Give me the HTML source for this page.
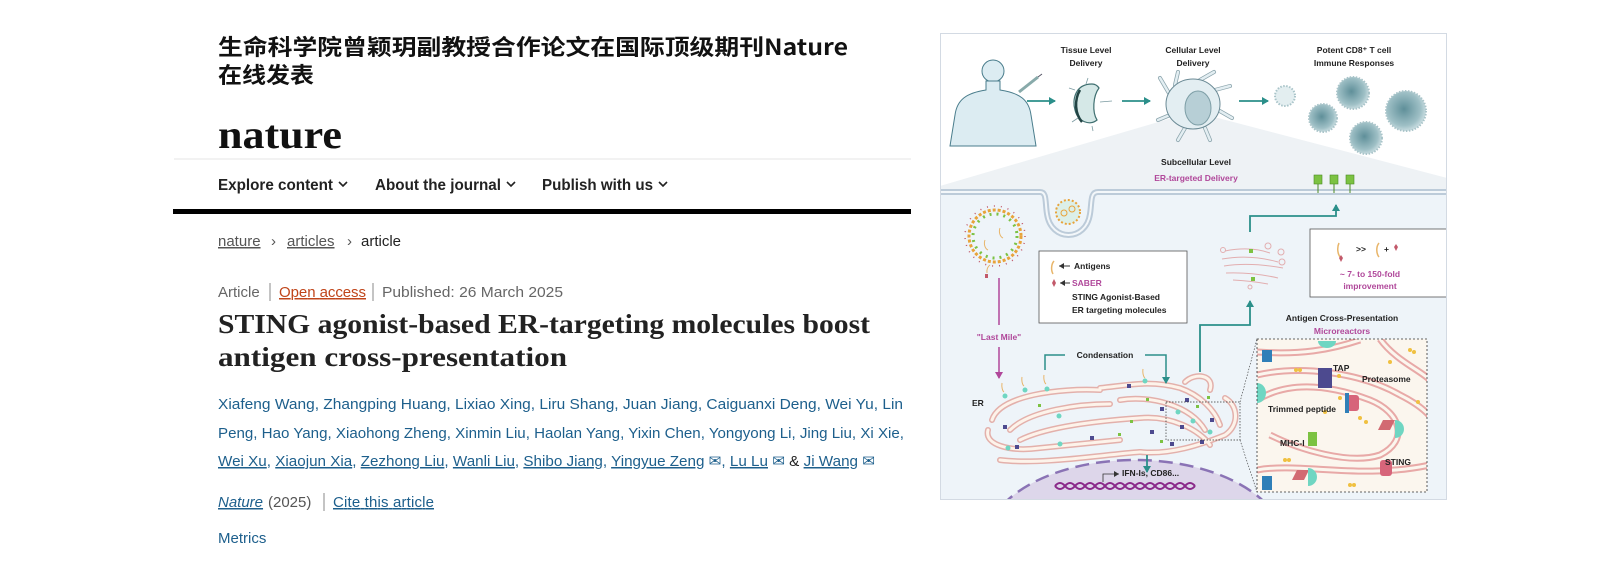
<!DOCTYPE html>
<html><head><meta charset="utf-8"><style>
html,body{margin:0;padding:0;background:#fff;width:1600px;height:580px;overflow:hidden}
svg{display:block;overflow:hidden}
.s{font-family:"Liberation Sans",sans-serif}
.b{font-weight:bold}
.a{fill:#1d5f8c;font-family:"Liberation Sans",sans-serif;font-size:15px}
.f{font-family:"Liberation Sans",sans-serif;font-weight:bold;font-size:8.5px;fill:#222}
.m{fill:#b0479a}
</style></head><body>
<svg width="1600" height="580" viewBox="0 0 1600 580" xmlns="http://www.w3.org/2000/svg">
<defs>
<marker id="at" markerWidth="8" markerHeight="8" refX="6" refY="4" orient="auto" markerUnits="userSpaceOnUse"><path d="M0,0 L7,4 L0,8 Z" fill="#2b8f8a"/></marker>
<marker id="am" markerWidth="8" markerHeight="8" refX="6" refY="4" orient="auto" markerUnits="userSpaceOnUse"><path d="M0,0 L7,4 L0,8 Z" fill="#b0479a"/></marker>
<marker id="ak" markerWidth="6" markerHeight="6" refX="5" refY="3" orient="auto" markerUnits="userSpaceOnUse"><path d="M0,0 L5,3 L0,6 Z" fill="#333"/></marker>
<radialGradient id="tc" cx="0.45" cy="0.45" r="0.6"><stop offset="0" stop-color="#5f8f99"/><stop offset="0.7" stop-color="#9fc0c6"/><stop offset="1" stop-color="#d8e7ea"/></radialGradient>
<clipPath id="fig"><rect x="940" y="33" width="507" height="467"/></clipPath>
<clipPath id="ins"><rect x="1257" y="339" width="170" height="153"/></clipPath>
</defs>

<text x="218" y="55" font-family="'Noto Sans CJK SC',sans-serif" font-weight="bold" font-size="22" fill="#111" textLength="630" lengthAdjust="spacingAndGlyphs">生命科学院曾颖玥副教授合作论文在国际顶级期刊Nature</text>
<text x="218" y="83" font-family="'Noto Sans CJK SC',sans-serif" font-weight="bold" font-size="22" fill="#111" textLength="96" lengthAdjust="spacingAndGlyphs">在线发表</text>

<text x="218" y="148" font-family="'Liberation Serif',serif" font-weight="bold" font-size="40" fill="#111" textLength="124" lengthAdjust="spacingAndGlyphs">nature</text>
<line x1="174" y1="159" x2="911" y2="159" stroke="#e4e4e4" stroke-width="1"/>

<g class="s b" font-size="15.5" fill="#222">
<text x="218" y="190" textLength="115" lengthAdjust="spacingAndGlyphs">Explore content</text>
<text x="375" y="190" textLength="126" lengthAdjust="spacingAndGlyphs">About the journal</text>
<text x="542" y="190" textLength="111" lengthAdjust="spacingAndGlyphs">Publish with us</text>
</g>
<g fill="none" stroke="#222" stroke-width="1.6">
<polyline points="339,182 343,186 347,182"/><polyline points="507,182 511,186 515,182"/><polyline points="659,182 663,186 667,182"/>
</g>
<rect x="173" y="209" width="738" height="5" fill="#000"/>

<g class="s" font-size="15" fill="#555">
<text x="218" y="246" text-decoration="underline">nature</text>
<text x="271" y="246">›</text>
<text x="287" y="246" text-decoration="underline">articles</text>
<text x="347" y="246">›</text>
<text x="361" y="246" fill="#222">article</text>
</g>

<g class="s" font-size="15" fill="#666">
<text x="218" y="297">Article</text>
<line x1="270" y1="283" x2="270" y2="301" stroke="#888"/>
<text x="279" y="297" fill="#c0451a" text-decoration="underline" textLength="87">Open access</text>
<line x1="373" y1="283" x2="373" y2="301" stroke="#888"/>
<text x="382" y="297" textLength="181" lengthAdjust="spacingAndGlyphs">Published: 26 March 2025</text>
</g>

<g font-family="'Liberation Serif',serif" font-weight="bold" font-size="27" fill="#222">
<text x="218" y="333" textLength="652" lengthAdjust="spacingAndGlyphs">STING agonist-based ER-targeting molecules boost</text>
<text x="218" y="366" textLength="349" lengthAdjust="spacingAndGlyphs">antigen cross-presentation</text>
</g>

<text class="a" x="218" y="409" textLength="685" lengthAdjust="spacingAndGlyphs">Xiafeng Wang, Zhangping Huang, Lixiao Xing, Liru Shang, Juan Jiang, Caiguanxi Deng, Wei Yu, Lin</text>
<text class="a" x="218" y="438" textLength="686" lengthAdjust="spacingAndGlyphs">Peng, Hao Yang, Xiaohong Zheng, Xinmin Liu, Haolan Yang, Yixin Chen, Yongyong Li, Jing Liu, Xi Xie,</text>
<text class="a" x="218" y="466" textLength="657" lengthAdjust="spacingAndGlyphs"><tspan text-decoration="underline">Wei Xu</tspan>, <tspan text-decoration="underline">Xiaojun Xia</tspan>, <tspan text-decoration="underline">Zezhong Liu</tspan>, <tspan text-decoration="underline">Wanli Liu</tspan>, <tspan text-decoration="underline">Shibo Jiang</tspan>, <tspan text-decoration="underline">Yingyue Zeng</tspan> ✉, <tspan text-decoration="underline">Lu Lu</tspan> ✉ <tspan fill="#222">&amp;</tspan> <tspan text-decoration="underline">Ji Wang</tspan> ✉</text>

<g class="s" font-size="15">
<text x="218" y="507" fill="#1d5f8c" font-style="italic" text-decoration="underline">Nature</text>
<text x="268" y="507" fill="#555">(2025)</text>
<line x1="324" y1="493" x2="324" y2="511" stroke="#888"/>
<text x="333" y="507" fill="#1d5f8c" text-decoration="underline" textLength="101">Cite this article</text>
<text x="218" y="543" fill="#1d5f8c">Metrics</text>
</g>

<g clip-path="url(#fig)">
<rect x="940" y="33" width="507" height="467" fill="#fff"/>
<rect x="940" y="190" width="507" height="310" fill="#eef4f9"/>
<polygon points="1172,118 1218,118 1447,178 1447,190 940,190 940,186" fill="#eef2f5"/>
<path d="M940,192 H1040 C1047,192 1045,202 1047,214 C1051,242 1086,242 1090,214 C1092,202 1090,192 1098,192 H1447" fill="none" stroke="#bccbd9" stroke-width="6"/>
<path d="M940,192 H1040 C1047,192 1045,202 1047,214 C1051,242 1086,242 1090,214 C1092,202 1090,192 1098,192 H1447" fill="none" stroke="#f3f7fa" stroke-width="2"/>
<circle cx="1068" cy="212" r="12" fill="#dcefe8" stroke="#e8a33a" stroke-width="2" stroke-dasharray="2,2"/>
<circle cx="1064" cy="213" r="3" fill="none" stroke="#e8a33a"/><circle cx="1072" cy="209" r="3" fill="none" stroke="#e8a33a"/>

<circle cx="993" cy="71" r="11" fill="#dcecf2" stroke="#4a7d8c"/>
<path d="M986,81 L986,90 C966,93 957,100 955,115 L950,146 H1036 L1031,115 C1029,100 1020,93 1000,90 L1000,81Z" fill="#dcecf2" stroke="#4a7d8c"/>
<line x1="1019" y1="92" x2="1038" y2="77" stroke="#8aa" stroke-width="3"/>
<line x1="1038" y1="77" x2="1042" y2="74" stroke="#556" stroke-width="1"/>
<line x1="1027" y1="101" x2="1055" y2="101" stroke="#2b8f8a" stroke-width="1.8" marker-end="url(#at)"/>
<line x1="1122" y1="101" x2="1150" y2="101" stroke="#2b8f8a" stroke-width="1.8" marker-end="url(#at)"/>
<line x1="1239" y1="101" x2="1268" y2="101" stroke="#2b8f8a" stroke-width="1.8" marker-end="url(#at)"/>
<g stroke="#7a9aa0" stroke-width="0.8"><line x1="1088" y1="78" x2="1086" y2="84"/><line x1="1075" y1="90" x2="1069" y2="88"/><line x1="1078" y1="118" x2="1072" y2="122"/><line x1="1092" y1="126" x2="1093" y2="131"/><line x1="1100" y1="102" x2="1112" y2="101"/></g>
<path d="M1092,84 C1075,84 1072,100 1075,110 C1078,122 1090,126 1097,120 C1092,112 1093,96 1099,88 C1097,85 1095,84 1092,84Z" fill="#d5e8e7" stroke="#3f6f70" stroke-width="1.2"/>
<path d="M1080,90 C1074,100 1075,114 1082,122" fill="none" stroke="#244" stroke-width="2.5"/>
<g stroke="#8aa3ab" stroke-width="4" stroke-linecap="round" fill="none">
<path d="M1170,95 L1160,78"/><path d="M1175,85 L1178,72"/><path d="M1200,80 L1214,72"/><path d="M1215,90 L1230,86"/><path d="M1218,110 L1232,118"/><path d="M1205,128 L1210,140"/><path d="M1185,128 L1178,140"/><path d="M1170,115 L1158,120"/>
</g>
<g stroke="#e3eef2" stroke-width="2.5" stroke-linecap="round" fill="none">
<path d="M1170,95 L1160,78"/><path d="M1175,85 L1178,72"/><path d="M1200,80 L1214,72"/><path d="M1215,90 L1230,86"/><path d="M1218,110 L1232,118"/><path d="M1205,128 L1210,140"/><path d="M1185,128 L1178,140"/><path d="M1170,115 L1158,120"/>
</g>
<ellipse cx="1193" cy="104" rx="27" ry="25" fill="#e3eef2" stroke="#6b8a95"/>
<ellipse cx="1198" cy="108" rx="13" ry="17" fill="#b7cfd6" stroke="#7d9ea6"/>
<g stroke="#a9c4c9" stroke-width="2" stroke-dasharray="1.5,1.5">
<circle cx="1285" cy="96" r="10" fill="#e3eef0"/>
<circle cx="1353" cy="93" r="16" fill="url(#tc)"/>
<circle cx="1323" cy="118" r="14" fill="url(#tc)"/>
<circle cx="1406" cy="111" r="20" fill="url(#tc)"/>
<circle cx="1366" cy="138" r="16" fill="url(#tc)"/>
</g>
<g text-anchor="middle">
<text class="f" x="1086" y="53">Tissue Level</text><text class="f" x="1086" y="66">Delivery</text>
<text class="f" x="1193" y="53">Cellular Level</text><text class="f" x="1193" y="66">Delivery</text>
<text class="f" x="1354" y="53">Potent CD8⁺ T cell</text><text class="f" x="1354" y="66">Immune Responses</text>
<text class="f" x="1196" y="165">Subcellular Level</text>
<text class="f m" x="1196" y="181" font-size="10">ER-targeted Delivery</text>
</g>
<g fill="#7cc242" stroke="#4b8a24" stroke-width="0.6">
<rect x="1314" y="175" width="8" height="9"/><rect x="1330" y="175" width="8" height="9"/><rect x="1346" y="175" width="8" height="9"/>
</g>
<g stroke="#4b8a24"><line x1="1318" y1="184" x2="1318" y2="193"/><line x1="1334" y1="184" x2="1334" y2="193"/><line x1="1350" y1="184" x2="1350" y2="193"/></g>

<circle cx="995" cy="236" r="26" fill="none" stroke="#e8a33a" stroke-width="3" stroke-dasharray="3,2"/>
<circle cx="995" cy="236" r="22" fill="none" stroke="#7cc242" stroke-width="3" stroke-dasharray="2,5"/>
<circle cx="995" cy="236" r="30" fill="none" stroke="#c2596a" stroke-width="1.5" stroke-dasharray="1,6"/>
<path d="M1000,228 a5,7 0 0 0 3,10" fill="none" stroke="#e8b56a"/><path d="M985,240 a5,7 0 0 0 3,10" fill="none" stroke="#e8b56a"/>
<path d="M987,273 a5,7 0 0 1 3,-8" fill="none" stroke="#e8b56a"/><rect x="985" y="274" width="3" height="4" fill="#c2596a"/>
<line x1="999" y1="278" x2="999" y2="325" stroke="#b0479a" stroke-width="1.5"/>
<text class="f m" x="999" y="340" text-anchor="middle" font-size="9.5">"Last Mile"</text>
<line x1="999" y1="347" x2="999" y2="378" stroke="#b0479a" stroke-width="1.5" marker-end="url(#am)"/>

<rect x="1039" y="251" width="148" height="72" fill="#fff" stroke="#555" stroke-width="0.8"/>
<path d="M1054,261 a6,9 0 0 0 -1,13" fill="none" stroke="#e8b56a" stroke-width="1.5"/>
<line x1="1070" y1="266" x2="1059" y2="266" stroke="#333" marker-end="url(#ak)"/>
<path d="M1054,279 l2,4 l-2,4 l-2,-4z" fill="#c2596a"/>
<line x1="1070" y1="283" x2="1060" y2="283" stroke="#333" marker-end="url(#ak)"/>
<text class="f" x="1074" y="269" font-size="7.5">Antigens</text>
<text class="f m" x="1072" y="286" font-size="10">SABER</text>
<text class="f" x="1072" y="300" font-size="7.5">STING Agonist-Based</text>
<text class="f" x="1072" y="313" font-size="7.5">ER targeting molecules</text>

<rect x="1310" y="229" width="140" height="68" fill="#fff" stroke="#555" stroke-width="0.8"/>
<path d="M1339,243 a6,10 0 0 0 2,15" fill="none" stroke="#e8b56a" stroke-width="1.5"/>
<path d="M1341,255 l2,3 l-2,4 l-2,-4z" fill="#c2596a"/>
<text class="f" x="1356" y="252" font-size="7">&gt;&gt;</text>
<path d="M1379,243 a6,9 0 0 0 0,14" fill="none" stroke="#e8b56a" stroke-width="1.5"/>
<text class="f" x="1384" y="252" font-size="8">+</text>
<path d="M1396,244 l2,3 l-2,4 l-2,-4z" fill="#c2596a"/>
<text class="f m" x="1370" y="277" text-anchor="middle" font-size="9.5">~ 7- to 150-fold</text>
<text class="f m" x="1370" y="289" text-anchor="middle" font-size="9.5">improvement</text>

<g fill="none" stroke="#e2aeb0" stroke-width="1">
<path d="M1225,251 Q1250,246 1270,253"/><path d="M1222,259 Q1250,254 1278,262"/><path d="M1224,266 Q1250,262 1283,268"/><path d="M1226,273 Q1252,272 1278,278"/><path d="M1233,280 Q1252,281 1268,284"/>
<circle cx="1268" cy="246" r="3"/><circle cx="1281" cy="252" r="3"/><circle cx="1282" cy="262" r="3"/><circle cx="1223" cy="250" r="2.5"/><circle cx="1250" cy="287" r="2"/>
</g>
<rect x="1249" y="249" width="4" height="4" fill="#7cc242"/><rect x="1251" y="277" width="4" height="4" fill="#7cc242"/>
<path d="M1250,232 V216 H1336 V205" fill="none" stroke="#2b8f8a" stroke-width="1.8" marker-end="url(#at)"/>
<path d="M1200,372 V325 H1250 V301" fill="none" stroke="#2b8f8a" stroke-width="1.8" marker-end="url(#at)"/>

<text class="f" x="1342" y="321" text-anchor="middle" font-size="8">Antigen Cross-Presentation</text>
<text class="f m" x="1342" y="334" text-anchor="middle" font-size="9.5">Microreactors</text>

<ellipse cx="1135" cy="545" rx="150" ry="85" fill="#ddd6ea"/>
<ellipse cx="1135" cy="545" rx="150" ry="85" fill="none" stroke="#8a73b5" stroke-width="2.5" stroke-dasharray="14,7"/>
<path d="M1055,486 Q1060,480 1065,486 T1075,486 T1085,486 T1095,486 T1105,486 T1115,486 T1125,486 T1135,486 T1145,486 T1155,486 T1165,486 T1175,486 T1185,486 T1195,486" fill="none" stroke="#8a2a8a" stroke-width="2"/>
<path d="M1055,486 Q1060,492 1065,486 T1075,486 T1085,486 T1095,486 T1105,486 T1115,486 T1125,486 T1135,486 T1145,486 T1155,486 T1165,486 T1175,486 T1185,486 T1195,486" fill="none" stroke="#8a2a8a" stroke-width="2"/>
<path d="M1103,482 V474 H1119" fill="none" stroke="#333" stroke-width="0.8" marker-end="url(#ak)"/>
<text class="f" x="1122" y="476" font-size="6.5">IFN-Is, CD86...</text>

<text class="f" x="972" y="406" font-size="10.5">ER</text>
<g fill="none" stroke="#e3b0ab" stroke-width="6" stroke-linecap="round">
<path d="M992,420 C1000,395 1060,388 1100,390"/>
<path d="M988,430 C984,445 1010,452 1040,448 L1120,440"/>
<path d="M1010,430 C1030,410 1080,404 1110,404"/>
<path d="M1000,460 C1040,465 1100,455 1140,452"/>
<path d="M1020,440 C1050,425 1110,420 1140,418"/>
<path d="M1100,388 C1130,385 1150,380 1180,388 C1200,395 1215,410 1220,425"/>
<path d="M1120,400 C1150,395 1190,405 1205,430"/>
<path d="M1140,418 C1170,415 1200,430 1210,445"/>
<path d="M1140,452 C1170,455 1200,445 1225,435 C1240,425 1238,405 1225,398"/>
<path d="M1185,382 C1195,372 1215,375 1210,390"/>
</g>
<g fill="none" stroke="#fdf3ea" stroke-width="3" stroke-linecap="round">
<path d="M992,420 C1000,395 1060,388 1100,390"/>
<path d="M988,430 C984,445 1010,452 1040,448 L1120,440"/>
<path d="M1010,430 C1030,410 1080,404 1110,404"/>
<path d="M1000,460 C1040,465 1100,455 1140,452"/>
<path d="M1020,440 C1050,425 1110,420 1140,418"/>
<path d="M1100,388 C1130,385 1150,380 1180,388 C1200,395 1215,410 1220,425"/>
<path d="M1120,400 C1150,395 1190,405 1205,430"/>
<path d="M1140,418 C1170,415 1200,430 1210,445"/>
<path d="M1140,452 C1170,455 1200,445 1225,435 C1240,425 1238,405 1225,398"/>
<path d="M1185,382 C1195,372 1215,375 1210,390"/>
</g>
<g fill="#4d4a8f"><rect x="1127" y="384" width="4" height="4"/><rect x="1160" y="407" width="4" height="4"/><rect x="1180" y="425" width="4" height="4"/><rect x="1200" y="440" width="4" height="4"/><rect x="1090" y="436" width="4" height="4"/><rect x="1015" y="445" width="4" height="4"/><rect x="1185" y="398" width="4" height="4"/><rect x="1210" y="418" width="4" height="4"/><rect x="1150" y="430" width="4" height="4"/><rect x="1170" y="442" width="4" height="4"/><rect x="1003" y="425" width="4" height="4"/></g>
<g fill="#6fd6c2"><circle cx="1005" cy="396" r="2.5"/><circle cx="1025" cy="390" r="2.5"/><circle cx="1047" cy="389" r="2.5"/><circle cx="1059" cy="416" r="2.5"/><circle cx="1145" cy="381" r="2.5"/><circle cx="1210" cy="432" r="2.5"/><circle cx="1178" cy="412" r="2.5"/><circle cx="1193" cy="421" r="2.5"/><circle cx="1008" cy="448" r="2.5"/><circle cx="1060" cy="444" r="2.5"/></g>
<g fill="#7cc242"><rect x="1038" y="404" width="3" height="3"/><rect x="1130" y="420" width="3" height="3"/><rect x="1146" y="398" width="3" height="3"/><rect x="1196" y="405" width="3" height="3"/><rect x="1118" y="433" width="3" height="3"/><rect x="1207" y="396" width="3" height="3"/><rect x="1160" y="440" width="3" height="3"/></g>
<g fill="none" stroke="#e8b56a" stroke-width="1"><path d="M1004,392 a3,7 0 0 1 -2,-9"/><path d="M1024,386 a3,7 0 0 1 -2,-9"/><path d="M1046,384 a3,7 0 0 1 -2,-9"/><path d="M1145,378 a3,7 0 0 1 -2,-9"/></g>
<text class="f" x="1105" y="358" text-anchor="middle" font-size="8.5">Condensation</text>
<path d="M1045,370 V355 H1065" fill="none" stroke="#2b8f8a" stroke-width="1.5"/>
<path d="M1145,355 H1166 V383" fill="none" stroke="#2b8f8a" stroke-width="1.5" marker-end="url(#at)"/>
<line x1="1147" y1="455" x2="1147" y2="472" stroke="#2b8f8a" stroke-width="1.8" marker-end="url(#at)"/>
<rect x="1166" y="402" width="74" height="38" fill="none" stroke="#333" stroke-width="0.7" stroke-dasharray="1.5,1.5"/>
<line x1="1240" y1="402" x2="1257" y2="339" stroke="#333" stroke-width="0.6" stroke-dasharray="1.5,1.5"/>
<line x1="1240" y1="440" x2="1257" y2="492" stroke="#333" stroke-width="0.6" stroke-dasharray="1.5,1.5"/>

<rect x="1257" y="339" width="170" height="153" fill="#fbf6ee"/>
<g clip-path="url(#ins)">
<g fill="none" stroke="#e8a9a7" stroke-width="7">
<path d="M1257,352 C1300,355 1330,350 1360,340"/>
<path d="M1257,375 C1300,365 1360,372 1400,395 C1420,405 1440,420 1440,440"/>
<path d="M1257,400 C1290,380 1330,385 1370,400 C1400,412 1410,440 1380,455 C1350,465 1300,450 1270,435"/>
<path d="M1257,470 C1300,462 1360,480 1430,465"/>
<path d="M1380,339 C1395,360 1420,370 1430,380"/>
</g>
<g fill="none" stroke="#fbf6ee" stroke-width="3">
<path d="M1257,352 C1300,355 1330,350 1360,340"/>
<path d="M1257,375 C1300,365 1360,372 1400,395 C1420,405 1440,420 1440,440"/>
<path d="M1257,400 C1290,380 1330,385 1370,400 C1400,412 1410,440 1380,455 C1350,465 1300,450 1270,435"/>
<path d="M1257,470 C1300,462 1360,480 1430,465"/>
<path d="M1380,339 C1395,360 1420,370 1430,380"/>
</g>
<rect x="1318" y="368" width="14" height="20" fill="#4d4a8f"/>
<rect x="1347" y="395" width="12" height="16" rx="3" fill="#d7657a"/><rect x="1345" y="393" width="4" height="20" fill="#2f7fb8"/>
<rect x="1380" y="460" width="12" height="16" rx="3" fill="#d7657a"/>
<rect x="1308" y="432" width="9" height="14" fill="#7cc242"/>
<path d="M1383,420 l12,0 l-5,10 l-12,0z" fill="#d26a72"/><path d="M1395,420 a9,9 0 1 1 0,18" fill="#6fd6c2"/>
<path d="M1297,470 l12,0 l-5,10 l-12,0z" fill="#d26a72"/><path d="M1308,468 a9,9 0 1 1 0,18" fill="#6fd6c2"/>
<path d="M1318,341 a9,7 0 1 0 18,0" fill="#6fd6c2"/>
<path d="M1257,383 a9,10 0 0 1 0,20" fill="#6fd6c2"/>
<rect x="1262" y="350" width="10" height="12" fill="#2f7fb8"/>
<rect x="1262" y="476" width="10" height="14" fill="#2f7fb8"/>
<g fill="#f0c040"><circle cx="1296" cy="370" r="2"/><circle cx="1300" cy="370" r="2"/><circle cx="1339" cy="376" r="2"/><circle cx="1410" cy="350" r="2"/><circle cx="1414" cy="352" r="2"/><circle cx="1390" cy="362" r="2"/><circle cx="1340" cy="398" r="2"/><circle cx="1325" cy="412" r="2"/><circle cx="1360" cy="418" r="2"/><circle cx="1366" cy="422" r="2"/><circle cx="1418" cy="402" r="2"/><circle cx="1350" cy="485" r="2"/><circle cx="1354" cy="485" r="2"/><circle cx="1285" cy="460" r="2"/><circle cx="1289" cy="460" r="2"/></g>
</g>
<rect x="1257" y="339" width="170" height="153" fill="none" stroke="#333" stroke-width="0.8" stroke-dasharray="2,2"/>
<g class="f" font-size="6.5">
<text x="1333" y="371">TAP</text>
<text x="1362" y="382">Proteasome</text>
<text x="1268" y="412">Trimmed peptide</text>
<text x="1280" y="446">MHC-I</text>
<text x="1385" y="465">STING</text>
</g>
</g>
<rect x="940.5" y="33.5" width="506" height="466" fill="none" stroke="#d3dae3"/>
</svg>
</body></html>
